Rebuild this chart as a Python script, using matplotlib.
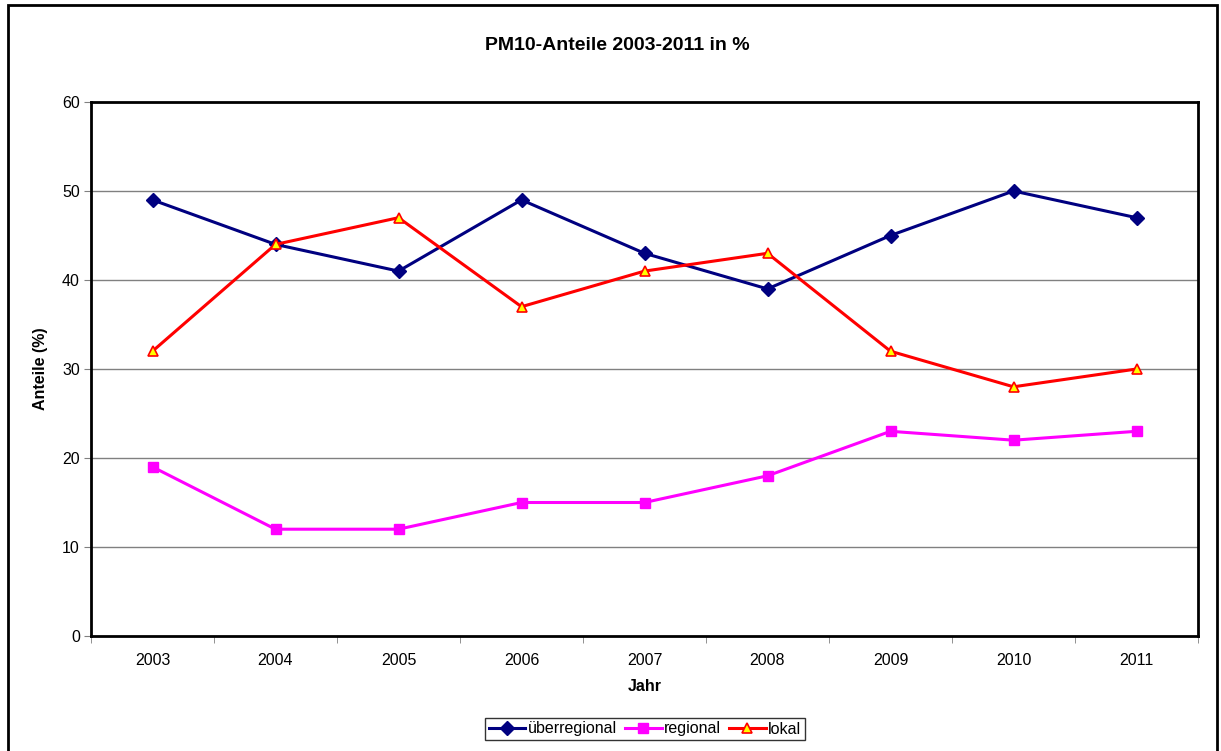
import matplotlib
matplotlib.use("Agg")
import matplotlib.pyplot as plt
from matplotlib.patches import Rectangle

plt.rcParams['font.family'] = ['Liberation Sans', 'DejaVu Sans']

years = ['2003', '2004', '2005', '2006', '2007', '2008', '2009', '2010', '2011']
ueberregional = [49, 44, 41, 49, 43, 39, 45, 50, 47]
regional = [19, 12, 12, 15, 15, 18, 23, 22, 23]
lokal = [32, 44, 47, 37, 41, 43, 32, 28, 30]
yticks = [0, 10, 20, 30, 40, 50, 60]

W, H = 1221, 751
fig = plt.figure(figsize=(W / 100, H / 100), dpi=100)
fig.patch.set_facecolor('white')

# outer chart frame
fig.patches.append(Rectangle((8 / W, -0.01), (1217 - 8) / W, 1 - 5 / H + 0.01,
                             transform=fig.transFigure, fill=False,
                             edgecolor='black', linewidth=2.0))

L, T, R, B = 91, 102, 1198, 636
ax = fig.add_axes([L / W, 1 - B / H, (R - L) / W, (B - T) / H])

x = list(range(len(years)))
ax.plot(x, ueberregional, color='#000080', linewidth=2.2, marker='D',
        markersize=7, markerfacecolor='#000080', markeredgecolor='#000080',
        label='überregional', zorder=3)
ax.plot(x, regional, color='#FF00FF', linewidth=2.2, marker='s',
        markersize=6.5, markerfacecolor='#FF00FF', markeredgecolor='#FF00FF',
        label='regional', zorder=3)
ax.plot(x, lokal, color='#FF0000', linewidth=2.2, marker='^',
        markersize=7.5, markerfacecolor='#FFFF00', markeredgecolor='#FF0000',
        markeredgewidth=1.2, label='lokal', zorder=4)

fs = 11.5
ax.set_xlim(-0.5, len(years) - 0.5)
ax.set_ylim(0, 60)
ax.set_yticks(yticks)
ax.set_yticklabels([str(v) for v in yticks], fontsize=fs)
ax.set_xticks(x)
ax.set_xticklabels(years, fontsize=fs)
ax.tick_params(axis='x', which='major', length=0, pad=12)
ax.set_xticks([i - 0.5 for i in range(len(years) + 1)], minor=True)
ax.tick_params(axis='x', which='minor', length=5, color='#808080', direction='out')
ax.tick_params(axis='y', which='major', length=5, color='#808080', direction='out', pad=3)

for v in yticks[1:-1]:
    ax.axhline(v, color='#808080', linewidth=1.0, zorder=1)

for s in ax.spines.values():
    s.set_color('black')
    s.set_linewidth(2.0)

ax.set_xlabel('Jahr', fontsize=fs, fontweight='bold', labelpad=8)
ax.set_ylabel('Anteile (%)', fontsize=fs, fontweight='bold', labelpad=10)

fig.text(617 / W, 1 - 45 / H, 'PM10-Anteile 2003-2011 in %', ha='center', va='center',
         fontsize=14, fontweight='bold')

leg = fig.legend(loc='center', bbox_to_anchor=(645 / W, 1 - 729 / H), ncol=3,
                 frameon=True, fontsize=fs, handlelength=2.3, handletextpad=0.15,
                 columnspacing=0.5, borderpad=0.25, borderaxespad=0.1, fancybox=False)
leg.get_frame().set_edgecolor('black')
leg.get_frame().set_linewidth(1.0)

fig.savefig('out.png', dpi=100)
